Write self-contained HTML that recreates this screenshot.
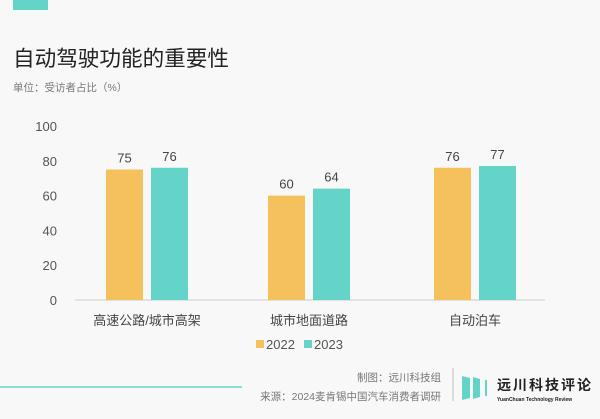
<!DOCTYPE html>
<html><head><meta charset="utf-8"><style>
body{margin:0;background:#f8f8f8;}
svg{display:block;font-family:"Liberation Sans","Noto Sans CJK SC",sans-serif;}
</style></head><body>
<svg width="600" height="419" viewBox="0 0 600 419">
<rect width="600" height="419" fill="#f8f8f8"/>
<rect x="13" y="0" width="35" height="10" fill="#64d4c8"/>
<text x="13" y="66" font-size="21.6" fill="#222">自动驾驶功能的重要性</text>
<text x="13" y="91" font-size="10.5" fill="#777">单位：受访者占比（%）</text>
<g id="plot"></g>
<rect x="256" y="340" width="8" height="8" fill="#f5c15d"/>
<text x="266" y="349" font-size="13" fill="#555">2022</text>
<rect x="304" y="340" width="8" height="8" fill="#64d4c8"/>
<text x="314" y="349" font-size="13" fill="#555">2023</text>
<line x1="0" y1="387" x2="242" y2="387" stroke="#64d4c8" stroke-width="1.5"/>
<text x="441" y="381" font-size="10.5" fill="#777" text-anchor="end">制图：远川科技组</text>
<text x="441" y="400" font-size="10.5" fill="#777" text-anchor="end">来源：2024麦肯锡中国汽车消费者调研</text>
<line x1="453" y1="368" x2="453" y2="401" stroke="#bbb"/>
<g>
<polygon points="462,376 470,378 470,398 462,400" fill="#64d4c8"/>
<polygon points="473,377 480,379 480,397 473,399" fill="#64d4c8"/>
<rect x="485" y="380" width="2" height="16" fill="#64d4c8"/>
</g>
<text x="497" y="390" font-size="14" font-weight="bold" fill="#222" letter-spacing="2">远川科技评论</text>
<text x="497" y="401" font-size="5" font-weight="bold" fill="#222">YuanChuan Technology Review</text>
</svg>
<script>
const categories=["高速公路/城市高架","城市地面道路","自动泊车"];
const values2022=[75,60,76];
const values2023=[76,64,77];
const ticks=[0,20,40,60,80,100];
const NS="http://www.w3.org/2000/svg";
const g=document.getElementById("plot");
const y0=300,y1=126,cx=[147,309,475],bw=37,gap=8;
const y=v=>y0-(v/100)*(y0-y1);
function mk(t,a){const e=document.createElementNS(NS,t);for(const k in a)e.setAttribute(k,a[k]);g.appendChild(e);return e;}
ticks.forEach(t=>{const e=mk("text",{x:57,y:y(t)+5,"font-size":13,fill:"#555","text-anchor":"end"});e.textContent=t;

});
const base=mk("line",{x1:75,x2:545,y1:y0,y2:y0,stroke:"#ccc"});


categories.forEach((c,i)=>{
 [[values2022,"#f5c15d",-1],[values2023,"#64d4c8",1]].forEach(([arr,col,s])=>{
  const x=s<0?cx[i]-gap/2-bw:cx[i]+gap/2;
  const r=mk("rect",{x:x,y:y(arr[i]),width:bw,height:y0-y(arr[i]),fill:col});
  
  
  const l=mk("text",{x:x+bw/2,y:y(arr[i])-7,"font-size":13,fill:"#444","text-anchor":"middle"});l.textContent=arr[i];
  
  
 });
 const t=mk("text",{x:cx[i],y:325,"font-size":13,fill:"#444","text-anchor":"middle"});t.textContent=c;
 
 
});
</script>
</body></html>
